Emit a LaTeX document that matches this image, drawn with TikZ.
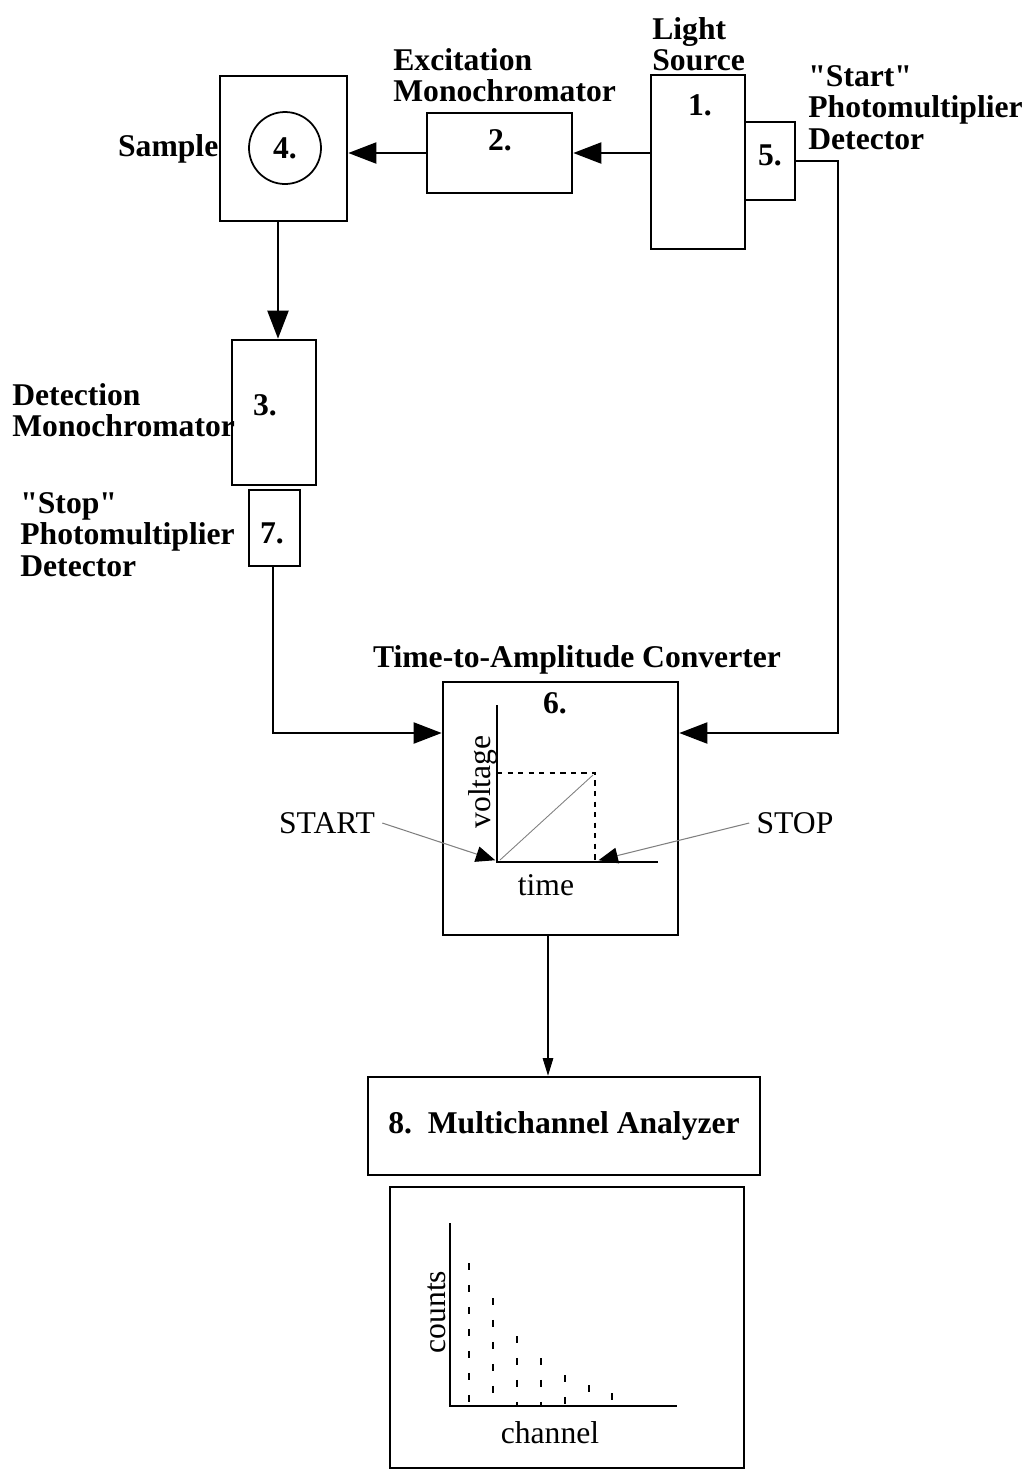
\documentclass[tikz,border=0pt]{standalone}
\usepackage{fontspec}
\setmainfont{Liberation Serif}[Ligatures=TeXOff]
\usetikzlibrary{arrows.meta, positioning, calc}

\begin{document}
\begin{tikzpicture}[
    box/.style={draw, line width=1.5pt, inner sep=0pt},
    lab/.style={font=\bfseries\fontsize{18}{18}\selectfont, align=left, inner sep=0pt},
    num/.style={font=\bfseries\fontsize{18}{18}\selectfont, inner sep=0pt},
    txt/.style={font=\fontsize{18}{18}\selectfont, inner sep=0pt},
    arr/.style={-{Triangle[length=16pt, width=12pt]}, line width=1.2pt},
    thinarr/.style={-{Triangle[length=10pt, width=6pt]}, line width=0.6pt},
    ptr/.style={-{Triangle[length=11pt, width=9pt, color=black]}, gray, line width=0.6pt},
    axis/.style={line width=0.8pt},
    bar/.style={dash pattern=on 4pt off 8.5pt, line width=0.6pt}
]
\useasboundingbox (0,0) rectangle (20.52,-29.4);

% optical path
\node[box, minimum width=2.54cm, minimum height=2.90cm] (sample) at (5.67,-2.97) {};
\node[draw, circle, line width=1pt, minimum size=1.44cm, inner sep=0pt, font=\bfseries\fontsize{18}{18}\selectfont] (cell) at (5.70,-2.96) {4.};
\node[box, minimum width=2.90cm, minimum height=1.60cm] (exc) at (9.99,-3.06) {};
\node[box, minimum width=1.88cm, minimum height=3.48cm] (ls) at (13.96,-3.24) {};
\node[box, minimum width=1.00cm, minimum height=1.56cm] (pm5) at (15.40,-3.22) {};
\node[box, minimum width=1.68cm, minimum height=2.90cm] (dmono) at (5.48,-8.25) {};
\node[box, minimum width=1.02cm, minimum height=1.52cm] (pm7) at (5.49,-10.56) {};

% numbers
\node[num] (n2) at (10.00,-2.80) {2.};
\node[num] (n1) at (14.00,-2.10) {1.};
\node[num] (n5) at (15.40,-3.10) {5.};
\node[num] (n3) at (5.30,-8.10) {3.};
\node[num] (n7) at (5.44,-10.66) {7.};

% labels
\node[lab, anchor=east] (samplelab) at (sample.west) {Sample};
\node[lab, anchor=north west] (exclab) at (7.86,-0.96) {Excitation\\Monochromator};
\node[lab, anchor=north west] (lslab) at (13.04,-0.34) {Light\\Source};
\node[lab, anchor=north west] (startlab) at (16.16,-1.30) {"Start"\\Photomultiplier\\Detector};
\node[lab, anchor=north west] (detlab) at (0.24,-7.66) {Detection\\Monochromator};
\node[lab, anchor=north west] (stoplab) at (0.40,-9.84) {"Stop"\\Photomultiplier\\Detector};

% time-to-amplitude converter
\node[box, minimum width=4.70cm, minimum height=5.06cm] (tac) at (11.21,-16.17) {};
\node[lab] (taclab) at (11.54,-13.20) {Time-to-Amplitude Converter};
\node[num] (n6) at (11.10,-14.06) {6.};
\coordinate (vorig) at (9.94,-17.24);
\coordinate (vstop) at (11.90,-17.24);
\draw[axis] (9.94,-14.10) -- (vorig) -- (13.16,-17.24);
\draw[dashed, line width=0.6pt] (9.94,-15.46) -- (11.90,-15.46) -- (vstop);
\draw[gray, line width=0.5pt] (10.00,-17.20) -- (11.86,-15.50);
\node[txt, rotate=90] (volt) at (9.66,-15.64) {voltage};
\node[txt] (time) at (10.92,-17.70) {time};
\node[txt] (start) at (6.54,-16.46) {START};
\node[txt] (stop) at (15.90,-16.46) {STOP};
\draw[ptr] ([xshift=4pt]start.east) -- ([xshift=-1pt,yshift=1pt]vorig);
\draw[ptr] ([xshift=-4pt]stop.west) -- ([xshift=2pt,yshift=1pt]vstop);

% signal lines
\coordinate (rturn) at (16.76,-14.66);
\coordinate (lturn) at (5.46,-14.66);
\coordinate (sdown) at (5.56,-4.42);
\draw[arr] (ls.west |- exc) -- (exc.east);
\draw[arr] (exc.west) -- (sample.east |- exc);
\draw[arr] (sdown) -- (sdown |- dmono.north);
\draw[arr] (pm5.east) -| (rturn) -- (tac.east |- rturn);
\draw[arr] (pm7.south -| lturn) -- (lturn) -- (tac.west |- lturn);

% multichannel analyzer
\node[box, minimum width=7.84cm, minimum height=1.96cm, font=\bfseries\fontsize{18}{18}\selectfont] (mca) at (11.28,-22.52) {8.\hspace{0.5em}Multichannel Analyzer};
\coordinate (tacout) at (10.96,-18.70);
\draw[thinarr] (tacout) -- (tacout |- mca.north);
\node[box, minimum width=7.08cm, minimum height=5.62cm] (disp) at (11.34,-26.55) {};
\draw[axis] (9.00,-24.46) -- (9.00,-28.12) -- (13.54,-28.12);
\foreach \x/\top in {9.38/-25.26, 9.86/-25.96, 10.34/-26.72, 10.82/-27.16, 11.30/-27.50, 11.78/-27.70, 12.24/-27.86}
    \draw[bar] (\x,\top) -- (\x,-28.12);
\node[txt, rotate=90] (counts) at (8.74,-26.24) {counts};
\node[txt] (chan) at (11.00,-28.66) {channel};

\end{tikzpicture}
\end{document}
